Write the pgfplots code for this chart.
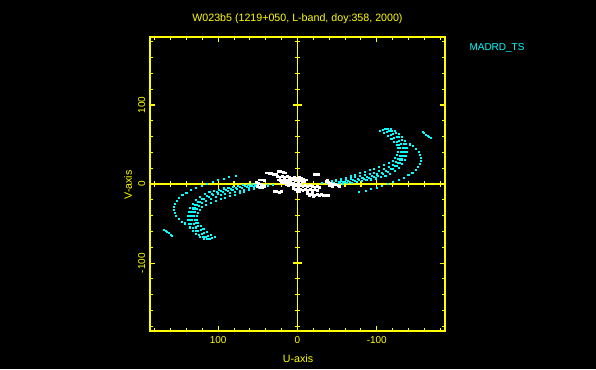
\documentclass[border=0pt]{standalone}
\usepackage{fontspec}
\setmainfont{Liberation Sans}
\usepackage{pgfplots}
\pgfplotsset{compat=1.18}
\definecolor{ylw}{RGB}{255,255,0}
\definecolor{cyn}{RGB}{0,255,255}
\begin{document}
\begin{tikzpicture}
\fill[black] (0,0) rectangle (447pt,276.75pt);
\useasboundingbox (0,0) rectangle (447pt,276.75pt);
\begin{axis}[
  at={(112.5pt,28.5pt)}, anchor=south west,
  scale only axis, width=221.25pt, height=220.5pt,
  xmin=-186, xmax=186, ymin=-186, ymax=186, x dir=reverse,
  axis line style={ylw, line width=0.9pt},
  xtick={-100,0,100}, ytick={-100,0,100},
  minor xtick={-180,-160,-140,-120,-80,-60,-40,-20,20,40,60,80,120,140,160,180},
  minor ytick={-180,-160,-140,-120,-80,-60,-40,-20,20,40,60,80,120,140,160,180},
  xtick pos=both, ytick pos=both,
  xticklabel pos=bottom, yticklabel pos=left,
  tick align=inside, major tick length=3.9pt, minor tick length=2.3pt,
  tick style={ylw, line width=0.8pt},
  /pgf/number format/assume math mode=true,
  tick label style={ylw, font=\fontsize{7.5}{9}\selectfont},
  xticklabel style={anchor=north, inner sep=0pt, yshift=-4pt},
  yticklabel style={xshift=-3.6pt, rotate=90, anchor=base, inner sep=0pt},
  clip=true,
]
\draw[draw=ylw, line width=1pt] (axis cs:0,-186) -- (axis cs:0,186);
\draw[draw=ylw, line width=1pt] (axis cs:-186,0) -- (axis cs:186,0);
\pgfplotsforeachungrouped \t in {-180,-160,-140,-120,-80,-60,-40,-20,20,40,60,80,120,140,160,180}{
  \edef\tmp{\noexpand\draw[draw=ylw, line width=0.9pt] ([yshift=-2pt]axis cs:\t,0) -- ([yshift=2pt]axis cs:\t,0);
            \noexpand\draw[draw=ylw, line width=0.9pt] ([xshift=-2pt]axis cs:0,\t) -- ([xshift=2pt]axis cs:0,\t);}
  \tmp
}
\pgfplotsforeachungrouped \t in {-100,100}{
  \edef\tmp{\noexpand\draw[draw=ylw, line width=0.9pt] ([yshift=-3.4pt]axis cs:\t,0) -- ([yshift=3.4pt]axis cs:\t,0);
            \noexpand\draw[draw=ylw, line width=0.9pt] ([xshift=-3.4pt]axis cs:0,\t) -- ([xshift=3.4pt]axis cs:0,\t);}
  \tmp
}
\addplot[only marks, mark=square*, mark size=0.4pt, cyn, mark options={draw=cyn, fill=cyn, line width=0pt}] coordinates {
(-104,67) (-109,64.5) (-114,61) (-118.5,57) (-122,53) (-125,49) (-126.5,45) (-127,41) (-126,37) (-123.5,33) (-120,29.5) (-115,26.5) (-109,24) (-103,21.5) (-97,19.5) (-91,17.5) (-85,15.5) (-79,13.5) (-73,11.5) (-67,9.5) (-61,7.5) (-55,6) (-49,4.5) (-43,3.2) (-37,2.2) (-31,1.5)
(-108,68) (-113,65.5) (-118,62) (-122,58) (-125.5,53.5) (-128,49) (-129.5,45) (-130,40.5) (-129,36) (-127,32) (-124,28) (-120,24.5) (-115,21.5) (-109,19) (-103,16.5) (-97,14.5) (-91,12.8) (-85,11.2) (-79,9.8) (-73,8.4) (-67,7) (-61,5.6) (-55,4.4) (-49,3.3) (-43,2.3) (-37,1.5)
(-111,69.5) (-116,67) (-121,63.5) (-125,59.5) (-128.5,55) (-131,50.5) (-132.5,45.5) (-132.5,40.5) (-131.5,35.5) (-129.5,31) (-126.5,27) (-122.5,23) (-117.5,19.5) (-112,16.5) (-106,14) (-100,12) (-94,10.5) (-88,9) (-82,7.5) (-76,6.2) (-70,5) (-64,4) (-58,3) (-52,2) (-46,1.2)
(-114,70) (-119,67.5) (-124,64) (-128,60) (-131.5,55.5) (-134,51) (-135,46) (-135,41) (-134,36) (-132,31) (-129,26.5) (-125,22.5) (-120,18.5) (-114,15) (-108,12.5) (-102,10.5) (-96,9) (-90,7.5) (-84,6.2) (-78,5) (-72,4) (-66,3) (-60,2) (-54,1.2) (-48,0.5)
(-118,69.5) (-123,67) (-127.5,63.5) (-131.5,59.5) (-135,55) (-137,50.5) (-138,45.5) (-138,40.5) (-137,35) (-135,30) (-132,25) (-128,20.5) (-123,16.5) (-117,13) (-111,10.5) (-105,8.5) (-99,7) (-93,5.7) (-87,4.6) (-81,3.6) (-75,2.7) (-69,1.8) (-63,1.1) (-57,0.5) (-51,0)
(-142,50) (-146,47.5) (-150,44.5) (-153,41) (-155,37) (-156,33) (-156,29) (-155,25) (-152.5,21) (-149,17.5) (-145,14) (-140,11) (-134,8) (-128,5.5) (-121,3) (-114,0.5) (-107,-2) (-100,-4.5) (-93,-6.5) (-86,-8.5) (-78,-10)
(-158,65.5) (-160,64) (-162,62.5) (-164,61) (-166,59.5) (-168,58)
(104,-67) (109,-64.5) (114,-61) (118.5,-57) (122,-53) (125,-49) (126.5,-45) (127,-41) (126,-37) (123.5,-33) (120,-29.5) (115,-26.5) (109,-24) (103,-21.5) (97,-19.5) (91,-17.5) (85,-15.5) (79,-13.5) (73,-11.5) (67,-9.5) (61,-7.5) (55,-6) (49,-4.5) (43,-3.2) (37,-2.2) (31,-1.5)
(108,-68) (113,-65.5) (118,-62) (122,-58) (125.5,-53.5) (128,-49) (129.5,-45) (130,-40.5) (129,-36) (127,-32) (124,-28) (120,-24.5) (115,-21.5) (109,-19) (103,-16.5) (97,-14.5) (91,-12.8) (85,-11.2) (79,-9.8) (73,-8.4) (67,-7) (61,-5.6) (55,-4.4) (49,-3.3) (43,-2.3) (37,-1.5)
(111,-69.5) (116,-67) (121,-63.5) (125,-59.5) (128.5,-55) (131,-50.5) (132.5,-45.5) (132.5,-40.5) (131.5,-35.5) (129.5,-31) (126.5,-27) (122.5,-23) (117.5,-19.5) (112,-16.5) (106,-14) (100,-12) (94,-10.5) (88,-9) (82,-7.5) (76,-6.2) (70,-5) (64,-4) (58,-3) (52,-2) (46,-1.2)
(114,-70) (119,-67.5) (124,-64) (128,-60) (131.5,-55.5) (134,-51) (135,-46) (135,-41) (134,-36) (132,-31) (129,-26.5) (125,-22.5) (120,-18.5) (114,-15) (108,-12.5) (102,-10.5) (96,-9) (90,-7.5) (84,-6.2) (78,-5) (72,-4) (66,-3) (60,-2) (54,-1.2) (48,-0.5)
(118,-69.5) (123,-67) (127.5,-63.5) (131.5,-59.5) (135,-55) (137,-50.5) (138,-45.5) (138,-40.5) (137,-35) (135,-30) (132,-25) (128,-20.5) (123,-16.5) (117,-13) (111,-10.5) (105,-8.5) (99,-7) (93,-5.7) (87,-4.6) (81,-3.6) (75,-2.7) (69,-1.8) (63,-1.1) (57,-0.5) (51,0)
(142,-50) (146,-47.5) (150,-44.5) (153,-41) (155,-37) (156,-33) (156,-29) (155,-25) (152.5,-21) (149,-17.5) (145,-14) (140,-11) (134,-8) (128,-5.5) (121,-3) (114,-0.5) (107,2) (100,4.5) (93,6.5) (86,8.5) (78,10)
(158,-65.5) (160,-64) (162,-62.5) (164,-61) (166,-59.5) (168,-58)
};
\addplot[only marks, mark=square*, mark size=0.7pt, white, mark options={draw=white, fill=white, line width=0pt}] coordinates {
(39,14) (36,13) (33,13) (30,12) (27,12) (24,16) (21,16) (18,15) (15,14) (-21,12) (-24,12) (-27,12)
(25,9) (22,8) (19,9) (16,8) (13,9) (10,8) (7,7) (4,8) (1,7) (-2,8) (-5,7) (-8,6) (-11,5)
(24,5) (21,4) (18,5) (15,4) (12,5) (9,4) (6,5) (3,4) (0,5) (-3,4) (-6,3) (-9,3)
(20,2) (17,2) (14,1) (11,2) (8,1) (5,1) (2,0) (-1,1) (-4,0)
(14,-1) (11,-2) (8,-1) (5,-3) (2,-2) (-1,-3) (-4,-2) (-7,-3) (-10,-2) (-13,-3) (-16,-2) (-19,-3) (-22,-4) (-25,-3) (-28,-4)
(5,-6) (2,-7) (-1,-6) (-4,-7) (-7,-8) (-10,-7) (-13,-8) (-16,-7) (-19,-8) (-22,-7) (-25,-8) (-3,-10) (0,-9)
(-13,-12) (-16,-13) (-19,-12) (-22,-14) (-25,-13) (-28,-14) (-15,-15) (-20,-16) (-30,-13) (-33,-14) (-36,-15) (-39,-14)
(52,2) (49,1) (46,-1) (43,-2) (50,-3) (47,-4) (44,-5) (41,-3) (48,5) (45,5) (42,4)
(29,-10) (26,-10) (23,-11) (20,-10)
(-36,3) (-39,2) (-42,1) (-45,0) (-48,-1) (-51,-2) (-53,-3) (-40,-2) (-44,-3) (-38,5)
};
\end{axis}
\node[ylw, font=\fontsize{8}{9.6}\selectfont] at (223.1pt,262.8pt) {W023b5 (1219+050, L-band, doy:358, 2000)};
\node[ylw, font=\fontsize{8}{9.6}\selectfont] at (223.5pt,7.9pt) {U-axis};
\node[ylw, font=\fontsize{8}{9.6}\selectfont, rotate=90] at (96pt,138pt) {V-axis};
\node[cyn, font=\fontsize{7.5}{9}\selectfont] at (372.75pt,241.1pt) {MADRD\_TS};
\end{tikzpicture}
\end{document}
